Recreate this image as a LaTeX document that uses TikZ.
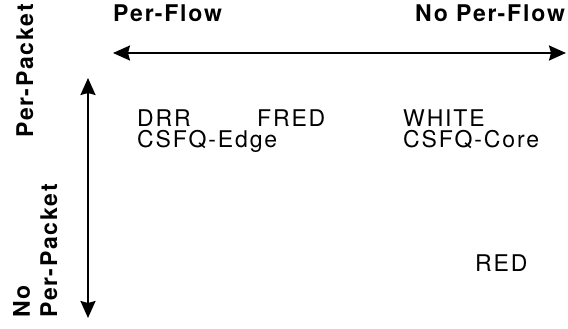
\documentclass[tikz,border=0pt]{standalone}
\usepackage{fontspec}
\usetikzlibrary{arrows.meta}
\newfontfamily\lblfont[LetterSpace=8]{TeX Gyre Heros}
\begin{document}
\begin{tikzpicture}[x=1pt,y=-1pt,
  lbl/.style={inner sep=0pt,anchor=base west,font=\lblfont\fontsize{23}{27}\selectfont},
  hdr/.style={lbl,font=\lblfont\bfseries\fontsize{23}{27}\selectfont},
  axis/.style={line width=2pt,{Stealth[length=17pt,width=15pt,inset=2pt]}-{Stealth[length=17pt,width=15pt,inset=2pt]}}]
\useasboundingbox (0,0) rectangle (568,329);
\node[hdr] (pf) at (113,22) {Per-Flow};
\node[hdr] (npf) at (415,22) {No Per-Flow};
\node[hdr,rotate=90] (pp) at (33,138) {Per-Packet};
\node[hdr,rotate=90] (no) at (30,318) {No};
\node[hdr,rotate=90] (npp) at (57,318) {Per-Packet};
\coordinate (hl) at (113,53);
\coordinate (hr) at (566,53);
\coordinate (vt) at (88,78);
\coordinate (vb) at (88,318);
\draw[axis] (hl) -- (hr);
\draw[axis] (vt) -- (vb);
\node[lbl] (drr) at (137,126) {DRR};
\node[lbl] (fred) at (257,126) {FRED};
\node[lbl] (white) at (403,126) {WHITE};
\node[lbl] (csfqe) at (137,147) {CSFQ-Edge};
\node[lbl] (csfqc) at (403,147) {CSFQ-Core};
\node[lbl] (red) at (475,271) {RED};
\end{tikzpicture}
\end{document}
